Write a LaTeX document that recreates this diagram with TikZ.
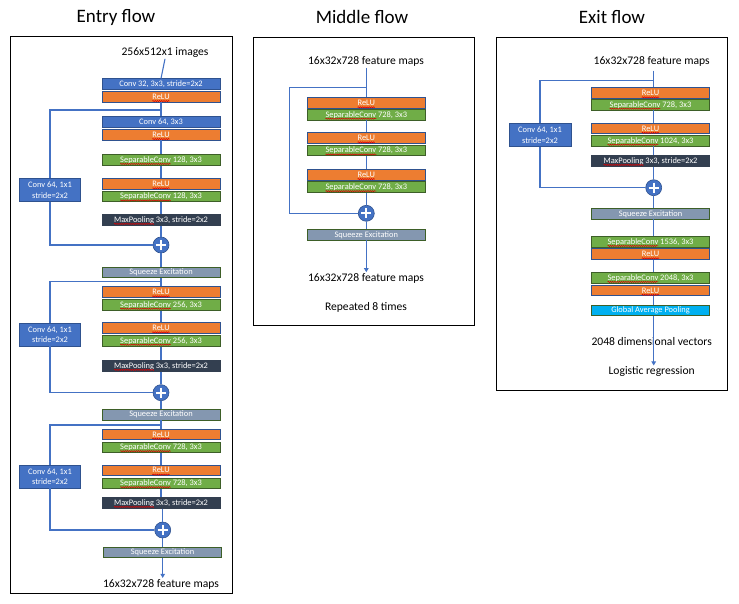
\documentclass[tikz,border=0pt]{standalone}
\usepackage{fontspec}
\setmainfont{Carlito}
\usetikzlibrary{arrows.meta,decorations.pathmorphing}
\definecolor{cblue}{HTML}{4472C4}
\definecolor{cbord}{HTML}{2F528F}
\definecolor{corange}{HTML}{ED7D31}
\definecolor{cgreen}{HTML}{70AD47}
\definecolor{cdgreen}{HTML}{3D5F28}
\definecolor{cse}{HTML}{8497B0}
\definecolor{cmp}{HTML}{333F50}
\definecolor{cgap}{HTML}{00B0F0}
\newcommand\sqg[1]{\tikz[baseline=(w.base)]{\node[inner sep=0pt, outer sep=0pt, minimum width=0pt,
    minimum height=0pt, draw=none, fill=none, text=white] (w) {#1};
  \draw[overlay, draw=red!85!black, line width=0.5pt, decorate,
    decoration={snake, amplitude=0.6pt, segment length=2.2pt}]
    ([yshift=-1.7pt]w.base west) -- ([yshift=-1.7pt]w.base east);}}
\tikzset{
  blk/.style={minimum width=118pt, minimum height=10.6pt, inner sep=0pt, text=white,
    font=\fontsize{8.4}{9}\selectfont, line width=0.8pt},
  convb/.style={blk, fill=cblue, draw=cbord},
  relub/.style={blk, fill=corange, draw=cbord},
  sepb/.style={blk, fill=cgreen, draw=cdgreen},
  seb/.style={blk, fill=cse, draw=cdgreen},
  mpb/.style={blk, fill=cmp, draw=cmp},
  gapb/.style={blk, fill=cgap, draw=cdgreen},
  sideb/.style={fill=cblue, draw=cbord, minimum width=61.5pt, minimum height=23pt,
    text=white, font=\fontsize{8.4}{10.5}\selectfont, align=center, inner sep=0pt, line width=0.8pt},
  addn/.style={circle, fill=cblue, draw=cbord, line width=0.6pt, minimum size=16pt, inner sep=0pt,
    path picture={\draw[white, line width=1.9pt]
      ([yshift=-3pt]path picture bounding box.north) -- ([yshift=3pt]path picture bounding box.south)
      ([xshift=3pt]path picture bounding box.west) -- ([xshift=-3pt]path picture bounding box.east);}},
  ln/.style={draw=cblue, line width=1.1pt},
  arr/.style={ln, -{Triangle[width=4.5pt,length=4pt]}},
  lbl/.style={font=\fontsize{11.6}{13}\selectfont, inner sep=1pt},
  ttl/.style={font=\fontsize{19}{21}\selectfont, inner sep=0pt},
  frm/.style={draw=black, line width=1pt}
}
\begin{document}
\begin{tikzpicture}[x=1pt, y=-1pt]
\useasboundingbox (0,0) rectangle (739,604);
% titles
\node[ttl] (t1) at (116,17) {Entry flow};
\node[ttl] (t2) at (362,17) {Middle flow};
\node[ttl] (t3) at (612,17) {Exit flow};
% frames
\draw[frm] (10,37) rectangle (232,593);
\draw[frm] (253.3,37.3) rectangle (474,325);
\draw[frm] (496.7,37.3) rectangle (727.3,390);

% ================= Entry flow =================
\node[lbl] (ein) at (165,52.7) {256x512x1 images};
\node[convb] (e1) at (161,84.2) {Conv 32, 3x3, stride=2x2};
\node[relub] (e2) at (161,96.7) {\sqg{ReLU}};
\coordinate (ej1) at (161,110);
\node[convb] (e3) at (161,122) {Conv 64, 3x3};
\node[relub] (e4) at (161,134.7) {\sqg{ReLU}};
\node[sepb] (e5) at (161,160) {\sqg{SeparableConv} 128, 3x3};
\node[relub] (e6) at (161,183.9) {\sqg{ReLU}};
\node[sepb] (e7) at (161,196.5) {\sqg{SeparableConv} 128, 3x3};
\node[mpb] (e8) at (161,220) {\sqg{MaxPooling} 3x3, stride=2x2};
\node[addn] (ep1) at (161,245) {};
\node[sideb] (ec1) at (50,190.3) {Conv 64, 1x1\\stride=2x2};
\node[seb] (ese1) at (161,272.2) {Squeeze Excitation};
\coordinate (ej2) at (161,281.7);
\node[relub] (e9) at (161,292) {\sqg{ReLU}};
\node[sepb] (e10) at (161,304.8) {\sqg{SeparableConv} 256, 3x3};
\node[relub] (e11) at (161,328) {\sqg{ReLU}};
\node[sepb] (e12) at (161,340.8) {\sqg{SeparableConv} 256, 3x3};
\node[mpb] (e13) at (161,366) {\sqg{MaxPooling} 3x3, stride=2x2};
\node[addn] (ep2) at (161,392.7) {};
\node[sideb] (ec2) at (50,334.5) {Conv 64, 1x1\\stride=2x2};
\node[seb] (ese2) at (161,414.7) {Squeeze Excitation};
\coordinate (ej3) at (161,425);
\node[relub] (e14) at (161,434.5) {\sqg{ReLU}};
\node[sepb] (e15) at (161,447.2) {\sqg{SeparableConv} 728, 3x3};
\node[relub] (e16) at (161,470.3) {\sqg{ReLU}};
\node[sepb] (e17) at (161,483.2) {\sqg{SeparableConv} 728, 3x3};
\node[mpb] (e18) at (161,503) {\sqg{MaxPooling} 3x3, stride=2x2};
\node[addn] (ep3) at (162.7,530) {};
\node[sideb] (ec3) at (50,476.5) {Conv 64, 1x1\\stride=2x2};
\node[seb] (ese3) at (162.5,552.3) {Squeeze Excitation};
\node[lbl] (eout) at (161,584) {16x32x728 feature maps};

\draw[ln] (ein.south) -- (e1.north);
\draw[ln] (e2.south) -- (e3.north);
\draw[ln] (e4.south) -- (e5.north);
\draw[ln] (e5.south) -- (e6.north);
\draw[ln] (e7.south) -- (e8.north);
\draw[ln] (e8.south) -- (ep1.north);
\draw[ln] (ej1) -| (ec1.north);
\draw[ln] (ec1.south) |- (ep1.west);
\draw[ln] (ep1.south) -- (ese1.north);
\draw[ln] (ese1.south) -- (e9.north);
\draw[ln] (e10.south) -- (e11.north);
\draw[ln] (e12.south) -- (e13.north);
\draw[ln] (e13.south) -- (ep2.north);
\draw[ln] (ej2) -| (ec2.north);
\draw[ln] (ec2.south) |- (ep2.west);
\draw[ln] (ep2.south) -- (ese2.north);
\draw[ln] (ese2.south) -- (e14.north);
\draw[ln] (e15.south) -- (e16.north);
\draw[ln] (e17.south) -- (e18.north);
\draw[ln] (e18.south -| ep3) -- (ep3.north);
\draw[ln] (ej3) -| (ec3.north);
\draw[ln] (ec3.south) |- (ep3.west);
\draw[ln] (ep3.south) -- (ese3.north -| ep3);
\draw[arr] (ese3.south -| ep3) -- (eout.north -| ep3);

% ================= Middle flow =================
\node[lbl] (min) at (366,61.7) {16x32x728 feature maps};
\coordinate (mj) at (366.3,87.3);
\coordinate (mc) at (289.7,213.3);
\node[relub] (m1) at (366.3,103) {\sqg{ReLU}};
\node[sepb] (m2) at (366.3,114.8) {\sqg{SeparableConv} 728, 3x3};
\node[relub] (m3) at (366.3,138) {\sqg{ReLU}};
\node[sepb] (m4) at (366.3,150.5) {\sqg{SeparableConv} 728, 3x3};
\node[relub] (m5) at (366.3,174.7) {\sqg{ReLU}};
\node[sepb] (m6) at (366.3,187.2) {\sqg{SeparableConv} 728, 3x3};
\node[addn] (mp) at (366.3,213.3) {};
\node[seb] (mse) at (366.3,234.8) {Squeeze Excitation};
\node[lbl] (mout) at (366,278.3) {16x32x728 feature maps};
\node[lbl] (mrep) at (366,307.3) {Repeated 8 times};

\draw[ln] (min.south -| mj) -- (m1.north);
\draw[ln] (m2.south) -- (m3.north);
\draw[ln] (m4.south) -- (m5.north);
\draw[ln] (m6.south) -- (mp.north);
\draw[ln] (mj) -| (mc) -- (mp.west);
\draw[ln] (mp.south) -- (mse.north);
\draw[arr] (mse.south) -- (mout.north -| mse);

% ================= Exit flow =================
\node[lbl] (xin) at (651.7,61) {16x32x728 feature maps};
\coordinate (xa) at (653.7,70.7);
\coordinate (xj) at (653.7,80.7);
\node[relub] (x1) at (650.5,93) {\sqg{ReLU}};
\node[sepb] (x2) at (650.5,104.8) {\sqg{SeparableConv} 728, 3x3};
\node[relub] (x3) at (650.5,128.5) {\sqg{ReLU}};
\node[sepb] (x4) at (650.5,140.8) {\sqg{SeparableConv} 1024, 3x3};
\node[mpb] (x5) at (650.5,161) {\sqg{MaxPooling} 3x3, stride=2x2};
\node[addn] (xp) at (653.7,187.7) {};
\node[sideb, minimum width=62pt, minimum height=23.4pt] (xc) at (540,135) {Conv 64, 1x1\\stride=2x2};
\node[seb] (xse) at (650.5,213.8) {Squeeze Excitation};
\node[sepb] (x6) at (650.5,242) {\sqg{SeparableConv} 1536, 3x3};
\node[relub] (x7) at (650.5,254) {\sqg{ReLU}};
\node[sepb] (x8) at (650.5,278) {\sqg{SeparableConv} 2048, 3x3};
\node[relub] (x9) at (650.5,290.5) {\sqg{ReLU}};
\node[gapb] (x10) at (650.5,310.5) {Global Average Pooling};
\node[lbl] (xv) at (651.7,341.7) {2048 dimensional vectors};
\node[lbl] (xout) at (651.7,371.7) {Logistic regression};

\draw[ln] (xa) -- (x1.north -| xa);
\draw[ln] (x2.south -| xa) -- (x3.north -| xa);
\draw[ln] (x4.south -| xa) -- (x5.north -| xa);
\draw[ln] (x5.south -| xa) -- (xp.north);
\draw[ln] (xj) -| (xc.north);
\draw[ln] (xc.south) |- (xp.west);
\draw[ln] (xp.south) -- (xse.north -| xa);
\draw[ln] (xse.south -| xa) -- (x6.north -| xa);
\draw[ln] (x7.south -| xa) -- (x8.north -| xa);
\draw[ln] (x9.south -| xa) -- (x10.north -| xa);
\draw[arr] (x10.south -| xa) -- (xout.north -| xa);
\end{tikzpicture}
\end{document}
